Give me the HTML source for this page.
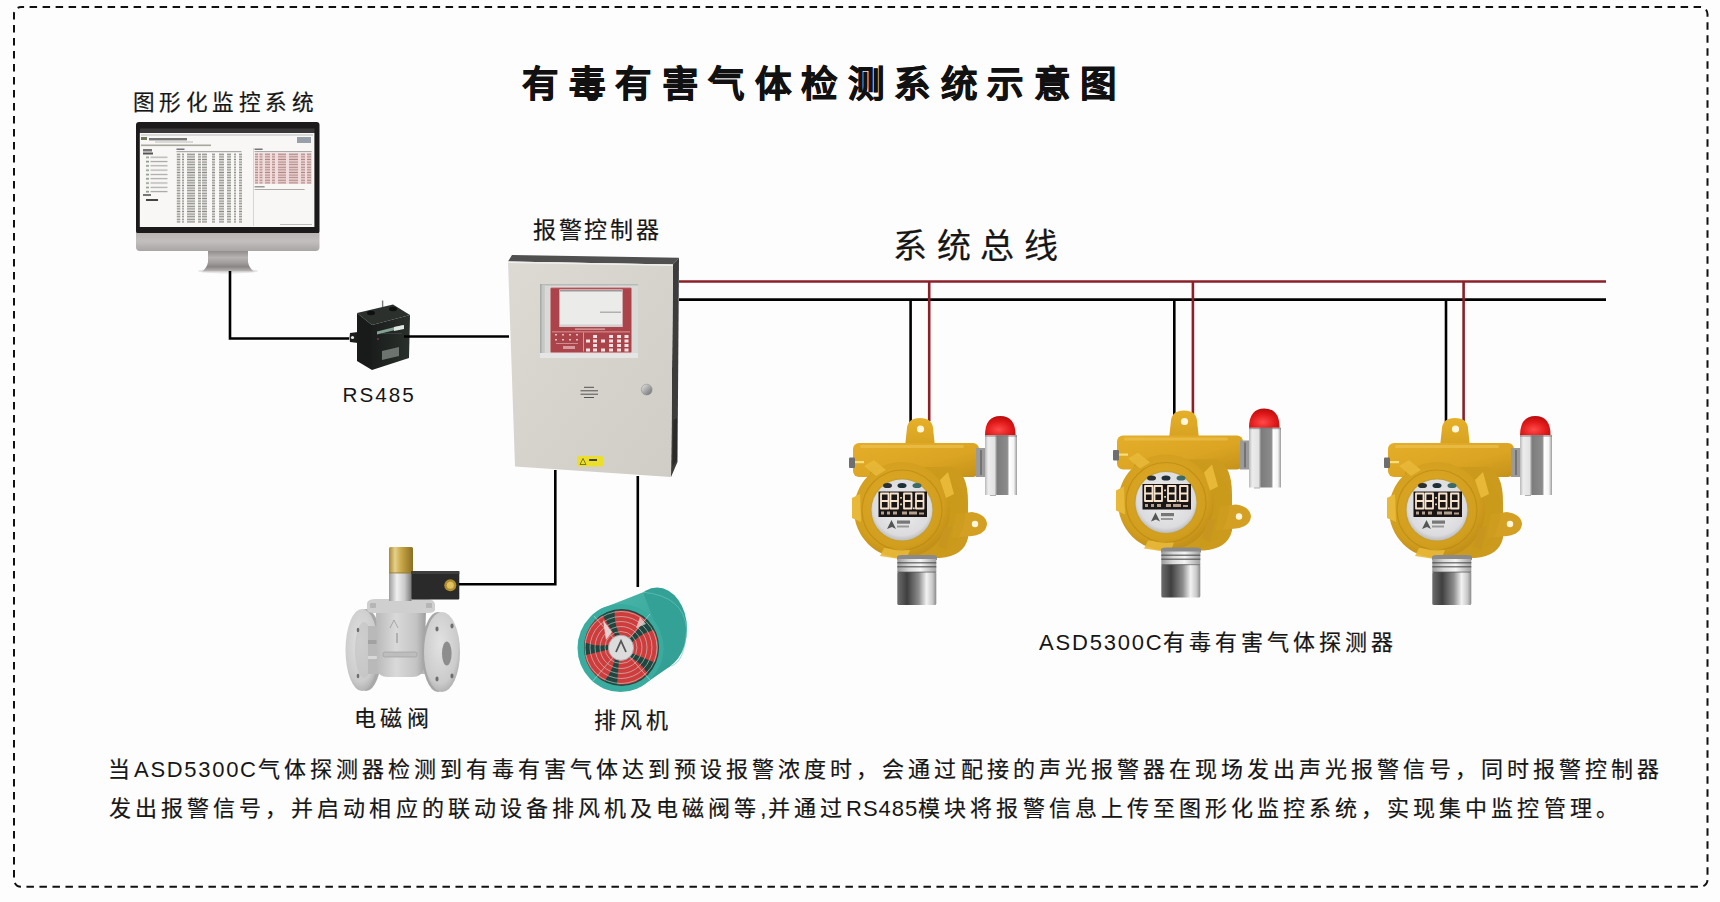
<!DOCTYPE html>
<html lang="zh-CN"><head><meta charset="utf-8"><title>有毒有害气体检测系统示意图</title>
<style>
html,body{margin:0;padding:0;}
body{width:1720px;height:902px;background:#fdfdfd;position:relative;overflow:hidden;font-family:"Liberation Sans",sans-serif;color:#161616;}
.t{position:absolute;white-space:nowrap;line-height:1;-webkit-text-stroke:0.2px #161616;}
svg{position:absolute;left:0;top:0;}
</style></head><body>
<svg width="1720" height="902" viewBox="0 0 1720 902">
<defs>
<linearGradient id="chin" x1="0" y1="0" x2="0" y2="1"><stop offset="0" stop-color="#b9b4b4"/><stop offset="0.45" stop-color="#c4bfbf"/><stop offset="1" stop-color="#aaa5a5"/></linearGradient>
<linearGradient id="neck" x1="0" y1="0" x2="0" y2="1"><stop offset="0" stop-color="#8c8787"/><stop offset="0.35" stop-color="#b8b3b3"/><stop offset="0.6" stop-color="#a29d9d"/><stop offset="0.78" stop-color="#8a8585"/><stop offset="1" stop-color="#bdb9b9"/></linearGradient>
<linearGradient id="neckx" x1="0" y1="0" x2="1" y2="0"><stop offset="0" stop-color="#fff" stop-opacity="0.5"/><stop offset="0.3" stop-color="#fff" stop-opacity="0"/><stop offset="0.7" stop-color="#000" stop-opacity="0"/><stop offset="1" stop-color="#000" stop-opacity="0.15"/></linearGradient>
<pattern id="rows" x="0" y="153" width="4" height="2.6" patternUnits="userSpaceOnUse"><rect width="4" height="1.4" y="0.6" fill="#8d8d88"/></pattern>
<pattern id="rowsp" x="0" y="153" width="4" height="2.6" patternUnits="userSpaceOnUse"><rect width="4" height="2.6" fill="#f3dcdc"/><rect width="4" height="1.3" y="0.6" fill="#b08888"/></pattern>
<pattern id="tree" x="146" y="155" width="40" height="4.3" patternUnits="userSpaceOnUse"><rect x="0" y="1.5" width="3" height="1.6" fill="#8a9a8a"/><rect x="4.5" y="1.6" width="17" height="1.2" fill="#a8a8a8"/></pattern>
<linearGradient id="face" x1="0" y1="0" x2="1" y2="1"><stop offset="0" stop-color="#dddad4"/><stop offset="0.5" stop-color="#d6d3cc"/><stop offset="1" stop-color="#d0cdc6"/></linearGradient>
<linearGradient id="knob" x1="0" y1="0" x2="1" y2="1"><stop offset="0" stop-color="#e8e8e8"/><stop offset="0.5" stop-color="#a8a8a8"/><stop offset="1" stop-color="#6a6a6a"/></linearGradient>
<linearGradient id="rsfront" x1="0" y1="0" x2="1" y2="0"><stop offset="0" stop-color="#1a1d1b"/><stop offset="1" stop-color="#2a302c"/></linearGradient>
<linearGradient id="ylw" x1="0" y1="0" x2="0" y2="1"><stop offset="0" stop-color="#e6b02a"/><stop offset="1" stop-color="#d09c1c"/></linearGradient>
<linearGradient id="ylwbody" x1="0" y1="0" x2="1" y2="1"><stop offset="0" stop-color="#e4ae2a"/><stop offset="0.6" stop-color="#dba422"/><stop offset="1" stop-color="#c4921a"/></linearGradient>
<radialGradient id="ring" cx="0.45" cy="0.4" r="0.6"><stop offset="0" stop-color="#e0aa26"/><stop offset="0.8" stop-color="#d29e1e"/><stop offset="1" stop-color="#c29018"/></radialGradient>
<radialGradient id="win" cx="0.5" cy="0.45" r="0.55"><stop offset="0" stop-color="#eeeeef"/><stop offset="0.85" stop-color="#dcdcde"/><stop offset="1" stop-color="#bdbdbf"/></radialGradient>
<linearGradient id="metal" x1="0" y1="0" x2="1" y2="0"><stop offset="0" stop-color="#6d6d6d"/><stop offset="0.25" stop-color="#3f3f3f"/><stop offset="0.55" stop-color="#8d8d8d"/><stop offset="0.75" stop-color="#f2f2f2"/><stop offset="0.9" stop-color="#c9c9c9"/><stop offset="1" stop-color="#8a8a8a"/></linearGradient>
<linearGradient id="metal2" x1="0" y1="0" x2="1" y2="0"><stop offset="0" stop-color="#9a9a9a"/><stop offset="0.3" stop-color="#d8d8d8"/><stop offset="0.6" stop-color="#f4f4f4"/><stop offset="1" stop-color="#a0a0a0"/></linearGradient>
<linearGradient id="lamp" x1="0" y1="0" x2="1" y2="0"><stop offset="0" stop-color="#b8b8b8"/><stop offset="0.1" stop-color="#ececec"/><stop offset="0.3" stop-color="#e2e2e2"/><stop offset="0.38" stop-color="#7c7c7c"/><stop offset="0.7" stop-color="#8c8c8c"/><stop offset="0.76" stop-color="#ffffff"/><stop offset="0.9" stop-color="#f4f4f4"/><stop offset="1" stop-color="#9a9a9a"/></linearGradient>
<radialGradient id="dome" cx="0.45" cy="0.7" r="0.7"><stop offset="0" stop-color="#ff4a4a"/><stop offset="0.6" stop-color="#e01818"/><stop offset="1" stop-color="#b80c0c"/></radialGradient>
<g id="det">
  <path d="M64 46 L67 18 Q68 8 80 8 Q92 8 93 18 L96 46 Z" fill="url(#ylw)"/>
  <circle cx="80.5" cy="19" r="3.6" fill="#fff6dc"/>
  <rect x="13" y="33" width="126" height="34" rx="6" fill="url(#ylwbody)"/>
  <rect x="20" y="35" width="104" height="3" rx="1.5" fill="#eec454" opacity="0.6"/>
  <rect x="9" y="47.5" width="6" height="10.5" rx="1" fill="#6e6e6e"/>
  <rect x="15" y="51" width="9" height="2.2" fill="#f8de78"/>
  <path d="M30 57 L112 57 Q128 62 128 92 L128 128 Q124 146 100 148 L62 148 L30 100 Z" fill="#cc9a1c"/>
  <path d="M116 104 L132 102 Q146 104 147 114 Q146 124 132 126 L112 128 Z" fill="#d4a024"/>
  <circle cx="135" cy="114" r="3.2" fill="#fff6dc"/>
  <path d="M96 60 Q124 70 126 100 Q124 136 96 146 Z" fill="#c99a1c" opacity="0.55"/>
  <circle cx="62" cy="100" r="48" fill="url(#ring)"/>
  <g fill="#e8b838">
    <path d="M12 88 L20 84 L21 112 L12 108 Z"/>
    <path d="M40 146 L44 138 L70 140 L66 150 Z" opacity="0.9"/>
    <path d="M100 70 L108 62 L114 84 L106 88 Z"/>
    <path d="M24 56 L34 50 L46 60 L36 66 Z" opacity="0.9"/>
    <path d="M104 118 L112 116 L106 140 L98 136 Z" fill="#c8961e"/>
  </g>
  <circle cx="62" cy="100" r="40" fill="none" stroke="#b88a16" stroke-width="1.2" opacity="0.7"/>
  <circle cx="62" cy="100" r="32" fill="#c9a02a"/>
  <circle cx="62" cy="100" r="30.5" fill="url(#win)"/>
  <ellipse cx="47.5" cy="75.5" rx="4.5" ry="2.6" fill="#2d3030"/>
  <ellipse cx="62" cy="75.5" rx="4.5" ry="2.6" fill="#1f2f36"/>
  <ellipse cx="77" cy="75.5" rx="4.5" ry="2.6" fill="#3c6a68"/>
  <rect x="38.5" y="81.5" width="48.5" height="25.5" fill="#1a1616"/>
  <g fill="none" stroke="#f8e4cc" stroke-width="1.8" stroke-linejoin="round">
    <path d="M41 83.5 h7.5 v15 h-7.5 z M41 91 h7.5"/>
    <path d="M50.5 83.5 h7.5 v15 h-7.5 z M50.5 91 h7.5"/>
    <path d="M64 83.5 h7.5 v15 h-7.5 z M64 91 h7.5"/>
    <path d="M76 83.5 h7.5 v15 h-7.5 z M76 91 h7.5"/>
  </g>
  <rect x="60.2" y="87" width="1.7" height="1.7" fill="#f8e4cc"/><rect x="60.2" y="93.5" width="1.7" height="1.7" fill="#f8e4cc"/>
  <rect x="73" y="97.5" width="1.7" height="1.7" fill="#f8e4cc"/>
  <g fill="#e8d0b8" opacity="0.75"><rect x="41" y="101.5" width="3" height="3"/><rect x="47" y="101.5" width="3" height="3"/><rect x="53" y="101.5" width="4" height="3"/><rect x="62" y="101.5" width="5" height="3"/><rect x="69" y="101.5" width="8" height="3"/><rect x="79" y="102.5" width="5" height="2"/></g>
  <path d="M47 119 L51.5 110 L56 119 L52 117 Z" fill="#555"/>
  <rect x="57" y="110.5" width="13" height="3.2" fill="#777"/>
  <rect x="57" y="115.5" width="12" height="2" fill="#999"/>
  <path d="M57 147 Q57 145 62 145 H92 Q97 145 97 147 V150 H57 Z" fill="#8a8a8a"/>
  <rect x="57.3" y="149" width="39" height="13" fill="url(#metal2)"/>
  <rect x="57.3" y="152" width="39" height="1.5" fill="#4a4a4a" opacity="0.7"/><rect x="57.3" y="156" width="39" height="1.5" fill="#4a4a4a" opacity="0.7"/>
  <rect x="57.3" y="162" width="39" height="33" rx="1.5" fill="url(#metal)"/>
  <rect x="57.3" y="161.5" width="39" height="1.2" fill="#555" opacity="0.6"/>
  <path d="M136 38 L150 38 Q153 42 153 53 Q153 64 150 67 L136 67 Z" fill="#9a9a9a"/>
  <rect x="140" y="40" width="2" height="25" fill="#5a5a5a" opacity="0.6"/><rect x="146" y="40" width="1.5" height="25" fill="#6a6a6a" opacity="0.5"/>
  <path d="M148 60 H156 V86 H150 Z" fill="#b0b0b0"/>
  <path d="M145 25.6 Q145 6 160.3 6 Q175.6 6 175.6 25.6 Z" fill="url(#dome)"/>
  <rect x="145" y="25.2" width="32" height="59.8" fill="url(#lamp)"/>
  <rect x="145" y="25.2" width="32" height="1.5" fill="#777" opacity="0.6"/>
</g>
<linearGradient id="brass" x1="0" y1="0" x2="1" y2="0"><stop offset="0" stop-color="#a88a34"/><stop offset="0.25" stop-color="#e6d08a"/><stop offset="0.5" stop-color="#c9a848"/><stop offset="1" stop-color="#8a6e22"/></linearGradient>
<linearGradient id="stem" x1="0" y1="0" x2="1" y2="0"><stop offset="0" stop-color="#9c9c9c"/><stop offset="0.35" stop-color="#f0f0f0"/><stop offset="0.7" stop-color="#c8c8c8"/><stop offset="1" stop-color="#7a7a7a"/></linearGradient>
<linearGradient id="vbody" x1="0" y1="0" x2="1" y2="0"><stop offset="0" stop-color="#b9b9b9"/><stop offset="0.4" stop-color="#d9d9d9"/><stop offset="0.8" stop-color="#c4c4c4"/><stop offset="1" stop-color="#9e9e9e"/></linearGradient>
<radialGradient id="flange" cx="0.45" cy="0.4" r="0.7"><stop offset="0" stop-color="#e2e2e2"/><stop offset="0.7" stop-color="#cbcbcb"/><stop offset="1" stop-color="#9f9f9f"/></radialGradient>
<linearGradient id="teal" x1="0" y1="0" x2="1" y2="1"><stop offset="0" stop-color="#4cb9ad"/><stop offset="1" stop-color="#2f9b90"/></linearGradient>
</defs>
<!-- border -->
<rect x="14" y="7" width="1693.5" height="879.7" rx="7" fill="none" stroke="#111" stroke-width="2" stroke-dasharray="7.5 5.5" stroke-dashoffset="4.4"/>


<!-- monitor -->
<g id="monitor">
  <ellipse cx="228" cy="271" rx="30" ry="2.5" fill="#dcdada" opacity="0.7"/>
  <path d="M208 250 H248 V262 Q249 268 254 271.5 H202 Q207 268 208 262 Z" fill="url(#neck)"/>
  <rect x="136" y="122" width="183.5" height="112" rx="3" fill="#1c1a1a"/>
  <path d="M136 233 H319.5 V247 Q319.5 251 315.5 251 H140 Q136 251 136 247 Z" fill="url(#chin)"/>
  <rect x="140" y="128.5" width="174.5" height="4.5" fill="#3a3838"/>
  <rect x="139.8" y="133" width="174.6" height="94" fill="#f8f7f5"/>
  <!-- title/toolbar -->
  <rect x="141" y="134" width="172" height="2" fill="#d8d8d8"/>
  <rect x="141" y="137" width="6" height="3" fill="#6f7a5a"/>
  <rect x="149" y="138" width="38" height="2.4" fill="#777"/>
  <rect x="155" y="141.5" width="38" height="1" fill="#bbb"/>
  <rect x="141" y="144.5" width="70" height="1.6" fill="#a7a79a"/>
  <rect x="297" y="137" width="14" height="6" fill="#9aa0a8"/>
  <!-- tree -->
  <rect x="143" y="149" width="9" height="2.5" fill="#777"/>
  <rect x="143" y="152.5" width="10" height="2" fill="#555"/>
  <rect x="146" y="155" width="40" height="39" fill="url(#tree)"/>
  <rect x="143" y="194" width="8" height="2" fill="#777"/>
  <rect x="146" y="199" width="12" height="2" fill="#444"/>
  <!-- middle table -->
  <rect x="176.5" y="148.5" width="8" height="1.5" fill="#777"/>
  <rect x="176.5" y="151" width="65" height="1.2" fill="#aaa"/>
  <g fill="url(#rows)">
   <rect x="176.8" y="153" width="3.5" height="70"/>
   <rect x="182" y="153" width="2" height="70"/>
   <rect x="187" y="153" width="8" height="70"/>
   <rect x="198" y="153" width="3" height="70"/>
   <rect x="202" y="153" width="5" height="70"/>
   <rect x="212" y="153" width="3" height="70"/>
   <rect x="219" y="153" width="5" height="70"/>
   <rect x="227" y="153" width="4" height="70"/>
   <rect x="234" y="153" width="2" height="70"/>
   <rect x="239" y="153" width="3" height="70"/>
  </g>
  <rect x="253" y="148" width="0.8" height="78" fill="#ccc"/>
  <!-- right pink table -->
  <rect x="254.6" y="148.5" width="8" height="1.5" fill="#777"/>
  <rect x="254.6" y="151" width="57" height="1.2" fill="#aaa"/>
  <rect x="254.6" y="153" width="57.4" height="31" fill="#f1dcdc"/>
  <g fill="url(#rowsp)">
   <rect x="255" y="153" width="3" height="31"/>
   <rect x="259.5" y="153" width="3" height="31"/>
   <rect x="265" y="153" width="5" height="31"/>
   <rect x="272" y="153" width="3" height="31"/>
   <rect x="278" y="153" width="8" height="31"/>
   <rect x="289" y="153" width="9" height="31"/>
   <rect x="301" y="153" width="4" height="31"/>
   <rect x="307" y="153" width="4" height="31"/>
  </g>
  <rect x="254.6" y="186" width="10" height="1.5" fill="#999"/>
  <rect x="254.6" y="189" width="50" height="1" fill="#aaa"/>
  <rect x="280" y="224" width="32" height="1" fill="#bbb"/>
</g>


<!-- controller -->
<g id="controller">
  <polygon points="512,255 679,257.7 673,264.5 508,261.5" fill="#505050"/>
  <polygon points="673,264.5 679,257.7 677.5,462 671,477" fill="#3c3c3c"/>
  <path d="M673.5 420 L677 418 L677 460 L672.5 466 Z" fill="#2a2a2a"/>
  <polygon points="508,261.5 673,264.5 671,477 515,466.6" fill="url(#face)"/>
  <polygon points="508,261.5 673,264.5 673,266 508,263" fill="#f0eeea"/>
  <rect x="540" y="284" width="98" height="74" fill="#d8dad8"/>
  <rect x="540" y="284" width="98" height="1.5" fill="#b8bab8"/>
  <rect x="540" y="284" width="1.8" height="74" fill="#a9abaa"/>
  <rect x="541.8" y="285.5" width="3" height="72" fill="#c6c8c6"/>
  <rect x="540" y="353" width="98" height="5" fill="#e4e5e4"/>
  <rect x="550.5" y="287.8" width="81" height="64.8" rx="1" fill="#aa444a" stroke="#d88a8e" stroke-width="0.6"/>
  <rect x="559.4" y="289.4" width="63.2" height="37.6" fill="#ebebea"/>
  <rect x="560" y="290" width="62" height="1.5" fill="#9a9a9a"/><rect x="560" y="324.5" width="62" height="2.5" fill="#d0d0d0"/>
  <rect x="600" y="311.5" width="21" height="1.5" fill="#b0b0b0"/>
  <rect x="552" y="331.5" width="78" height="0.8" fill="#e8a8a8"/><rect x="575" y="328.5" width="30" height="1.2" fill="#f0c8c8" opacity="0.8"/>
  <rect x="583" y="332.5" width="0.8" height="19" fill="#e8a8a8"/>
  <g fill="#f4d4d4" opacity="0.85">
   <rect x="555" y="334" width="2" height="1.5"/><rect x="562" y="334" width="2" height="1.5"/><rect x="569" y="334" width="2" height="1.5"/><rect x="576" y="334" width="2" height="1.5"/>
   <rect x="555" y="339" width="2" height="1.5"/><rect x="562" y="339" width="2" height="1.5"/><rect x="569" y="339" width="2" height="1.5"/><rect x="576" y="339" width="2" height="1.5"/>
   <rect x="556" y="343" width="22" height="1" opacity="0.6"/>
   <rect x="563" y="346" width="12" height="3" opacity="0.7"/>
  </g>
  <g fill="#f6e4e4">
   <rect x="593" y="335" width="4" height="3"/><rect x="609" y="335" width="4" height="3"/><rect x="617" y="335" width="4" height="3"/><rect x="624.5" y="335" width="4" height="3"/>
   <rect x="586" y="339.5" width="4" height="3"/><rect x="593" y="339.5" width="4" height="3"/><rect x="601" y="339.5" width="4" height="3"/><rect x="609" y="339.5" width="4" height="3"/><rect x="617" y="339.5" width="4" height="3"/><rect x="624.5" y="339.5" width="4" height="3"/>
   <rect x="593" y="344" width="4" height="3"/><rect x="609" y="344" width="4" height="3"/><rect x="617" y="344" width="4" height="3"/><rect x="624.5" y="344" width="4" height="3"/>
   <rect x="586" y="348.5" width="4" height="3"/><rect x="593" y="348.5" width="4" height="3"/><rect x="601" y="348.5" width="4" height="3"/><rect x="609" y="348.5" width="4" height="3"/><rect x="617" y="348.5" width="4" height="3"/><rect x="624.5" y="348.5" width="4" height="3"/>
  </g>
  <g stroke="#444" stroke-width="0.9" fill="none">
   <path d="M584 387.3 H594"/><path d="M580.5 390.8 H598"/><path d="M580.5 394.2 H598"/><path d="M584 397.5 H594"/>
  </g>
  <circle cx="646.7" cy="389.6" r="5.4" fill="url(#knob)"/>
  <circle cx="646.7" cy="389.6" r="5.4" fill="none" stroke="#888" stroke-width="0.5"/>
  <rect x="577" y="456" width="26" height="10.5" rx="1.5" fill="#ecdf2a"/>
  <path d="M580 464.5 L583 458.5 L586 464.5 Z" fill="none" stroke="#333" stroke-width="0.6"/>
  <rect x="589" y="459" width="8" height="2" fill="#444"/>
</g>
<!-- RS485 -->
<g id="rs485">
  <path d="M382.6 300.5 V307" stroke="#7a7a7a" stroke-width="1.4"/>
  <path d="M350 333 Q349 338 350 342 L358 343 L358 332 Z" fill="#1c1e1c"/>
  <circle cx="352.5" cy="337.5" r="1.6" fill="#e8e8e8"/>
  <polygon points="357,313 393,304.5 410,315 372,325" fill="#2b302d"/>
  <polygon points="357,313 372,325 372,370 357,361" fill="#181b19"/>
  <polygon points="372,325 410,315 409,358 372,370" fill="url(#rsfront)"/>
  <ellipse cx="371" cy="313" rx="4" ry="2.2" fill="#0e100f"/>
  <ellipse cx="393" cy="309" rx="4" ry="2.2" fill="#0e100f"/>
  <polygon points="377,331.5 403,325 403,328 377,334.5" fill="#8fb0a0" opacity="0.9"/>
  <polygon points="394,327 404,325 404,329 394,331" fill="#e0e8e4"/>
  <polygon points="382,351 399,347 399,356 382,360" fill="#6d7470"/>
  <rect x="382" y="333" width="20" height="0.8" fill="#556" opacity="0.6"/>
  <circle cx="378" cy="339" r="1" fill="#7a3a3a"/>
</g>


<!-- valve -->
<g id="valve">
  <ellipse cx="366" cy="650" rx="16" ry="41" fill="#a9a9a9"/>
  <ellipse cx="362" cy="650" rx="16.5" ry="41" fill="url(#flange)"/>
  <ellipse cx="364" cy="650" rx="9" ry="28" fill="#c2c2c2" opacity="0.6"/>
  <rect x="368" y="626" width="70" height="48" fill="#b9b9b9"/><rect x="368" y="640" width="70" height="4" fill="#a2a2a2"/><rect x="368" y="656" width="70" height="3" fill="#d8d8d8"/>
  <path d="M376 611 H426 L424 668 Q422 677 412 677 H388 Q378 677 377 668 Z" fill="url(#vbody)"/>
  <path d="M367 603 Q368 599 376 599 H426 Q434 599 435 604 L435 610 Q434 613 428 613 H374 Q367 613 367 609 Z" fill="#cfcfcf"/>
  <rect x="370" y="603" width="6" height="5" rx="1" fill="#b5b5b5"/><rect x="426" y="603" width="6" height="5" rx="1" fill="#b5b5b5"/>
  <rect x="383" y="652" width="34" height="5" rx="2" fill="#bdbdbd" stroke="#9a9a9a" stroke-width="0.6"/>
  <path d="M390 628 L394 620 L398 628" fill="none" stroke="#9a9a9a" stroke-width="0.8"/>
  <rect x="396" y="633" width="2" height="10" fill="#b0b0b0"/>
  <ellipse cx="438" cy="652" rx="16" ry="40" fill="#a6a6a6"/>
  <ellipse cx="442" cy="652" rx="18" ry="40" fill="url(#flange)"/>
  <ellipse cx="446.8" cy="653.6" rx="4.8" ry="12" fill="#8d8d8d"/>
  <g fill="#6e6e6e">
   <ellipse cx="437" cy="629" rx="1.6" ry="2.4"/><ellipse cx="452" cy="626" rx="1.6" ry="2.4"/>
   <ellipse cx="437" cy="679" rx="1.6" ry="2.4"/><ellipse cx="452" cy="676" rx="1.6" ry="2.4"/>
   <ellipse cx="358" cy="630" rx="1.3" ry="2.2"/><ellipse cx="358" cy="676" rx="1.3" ry="2.2"/>
  </g>
  <rect x="389" y="573" width="22.5" height="28" fill="url(#stem)"/>
  <rect x="389" y="547" width="24" height="26.5" rx="1.5" fill="url(#brass)"/>
  <rect x="389" y="572" width="24" height="1.5" fill="#8a7a4a" opacity="0.5"/>
  <rect x="411.3" y="571" width="48" height="28.5" rx="1" fill="#2a2a2a"/>
  <rect x="411.3" y="571" width="48" height="3" fill="#3e3e3e"/>
  <circle cx="450.3" cy="585.2" r="6" fill="#b08e2e"/>
  <circle cx="450.3" cy="585.2" r="3.5" fill="#e0c060"/>
</g>
<!-- fan -->
<g id="fan">
  <ellipse cx="657" cy="629" rx="30" ry="41.5" fill="#33a196"/>
  <polygon points="600.6,609 643.1,592.2 670.9,665.8 640.4,687" fill="url(#teal)"/>
  <path d="M643 592.2 Q684 596 686.5 629 Q685 662 671 666" fill="none" stroke="#6cc8bc" stroke-width="0.9" opacity="0.7"/>
  <ellipse cx="620.5" cy="648" rx="43" ry="44" fill="#3aab9f"/>
  <ellipse cx="621.5" cy="647.5" rx="37.5" ry="38.5" fill="#21463f"/>
  <g fill="#d03c3c">
    <path d="M622.0 639.6 Q614.0 626.6 614.6 611.1 A37.0 37.0 0 0 1 645.8 620.0 L626.9 642.1 Z"/>
    <path d="M628.9 646.0 Q638.7 634.4 653.7 630.1 A37.0 37.0 0 0 1 654.8 662.5 L627.9 651.5 Z"/>
    <path d="M624.9 654.5 Q638.9 660.2 647.6 673.2 A37.0 37.0 0 0 1 617.1 684.3 L619.4 655.3 Z"/>
    <path d="M615.5 653.3 Q614.4 668.5 604.8 680.8 A37.0 37.0 0 0 1 584.8 655.2 L613.0 648.4 Z"/>
    <path d="M613.8 644.1 Q599.0 647.7 584.4 642.4 A37.0 37.0 0 0 1 602.5 615.5 L617.7 640.2 Z"/>
  </g>
  <path d="M603 620 L612 632 L606 640 Z" fill="#f0e8e8" opacity="0.85"/>
  <path d="M640 617 L646 624 L636 628 Z" fill="#f0e8e8" opacity="0.7"/>
  <g fill="none" stroke="#c4dcd6" stroke-width="0.75" opacity="0.8">
    <circle cx="621" cy="647.5" r="16"/><circle cx="621" cy="647.5" r="21"/><circle cx="621" cy="647.5" r="26"/><circle cx="621" cy="647.5" r="31"/><circle cx="621" cy="647.5" r="36"/>
    <path d="M594 616 L650 680"/><path d="M650 614 L592 682"/>
  </g>
  <circle cx="621" cy="647.8" r="12.6" fill="#dcdcdc"/>
  <circle cx="621" cy="647.8" r="12.6" fill="none" stroke="#aaa" stroke-width="1"/>
  <path d="M616 652 L621 641 L626 652" fill="none" stroke="#555" stroke-width="1.8"/>
</g>

<!-- connection lines -->
<g fill="none" stroke="#000" stroke-width="2.6">
  <path d="M230 271 V338.5 H349"/>
  <path d="M404 336.5 H509"/>
  <path d="M459 584.3 H555.3 V470"/>
  <path d="M637.8 476 V587"/>
  <path d="M679 299.6 H1606"/>
  <path d="M910.6 299.6 V424"/>
  <path d="M1174.3 299.6 V416"/>
  <path d="M1446 299.6 V424"/>
</g>
<g fill="none" stroke="#8c1f28" stroke-width="2.6">
  <path d="M679 281.5 H1606"/>
  <path d="M929.2 281.5 V421"/>
  <path d="M1192.9 281.5 V414"/>
  <path d="M1463.6 281.5 V421"/>
</g>

<!-- detectors -->
<use href="#det" x="840" y="410"/>
<use href="#det" x="1104" y="402.5"/>
<use href="#det" x="1375" y="410"/>
</svg>
<div class="t" style="left:522px;top:67px;font-size:36.5px;font-weight:900;letter-spacing:10.5px;-webkit-text-stroke:0.8px #111;color:#111;">有毒有害气体检测系统示意图</div>
<div class="t" style="left:132.5px;top:92px;font-size:21.6px;letter-spacing:4.6px;">图形化监控系统</div>
<div class="t" style="left:533px;top:219px;font-size:23px;letter-spacing:2.7px;">报警控制器</div>
<div class="t" style="left:893px;top:228.5px;font-size:34px;letter-spacing:9.6px;">系统总线</div>
<div class="t" style="left:342.5px;top:384.5px;font-size:20.7px;letter-spacing:2px;-webkit-text-stroke:0;">RS485</div>
<div class="t" style="left:1039px;top:632px;font-size:22px;letter-spacing:4px;"><span style="letter-spacing:1.8px;-webkit-text-stroke:0">ASD5300C</span>有毒有害气体探测器</div>
<div class="t" style="left:353.5px;top:707.5px;font-size:22px;letter-spacing:4.5px;">电磁阀</div>
<div class="t" style="left:593.5px;top:710px;font-size:22px;letter-spacing:4.2px;">排风机</div>
<div class="t" style="left:108px;top:759px;font-size:22px;letter-spacing:4.03px;">当<span style="letter-spacing:1.7px;-webkit-text-stroke:0">ASD5300C</span>气体探测器检测到有毒有害气体达到预设报警浓度时，会通过配接的声光报警器在现场发出声光报警信号，同时报警控制器</div>
<div class="t" style="left:109px;top:798px;font-size:22px;letter-spacing:4.05px;">发出报警信号，并启动相应的联动设备排风机及电磁阀等<span style="letter-spacing:1.5px">,</span>并通过<span style="letter-spacing:1px;-webkit-text-stroke:0">RS485</span>模块将报警信息上传至图形化监控系统，实现集中监控管理。</div>
</body></html>
